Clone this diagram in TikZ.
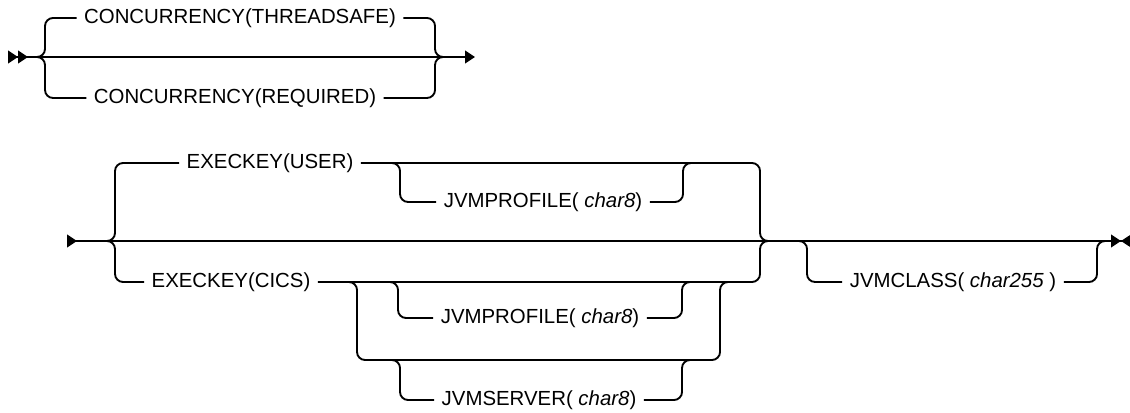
\documentclass[tikz,border=0pt]{standalone}
\usepackage{fontspec}
\setmainfont{Liberation Sans}
\usetikzlibrary{arrows.meta,calc}

\begin{document}
\begin{tikzpicture}[x=0.75pt,y=-0.75pt,line width=1.4pt,font=\fontsize{15.3}{18}\selectfont]
\tikzstyle{kw}=[inner xsep=5pt,inner ysep=0pt]
\tikzstyle{rail}=[rounded corners=6pt]
\tikzset{tri/.tip={Triangle[length=7.5pt,width=9.5pt]}}
\useasboundingbox (0,0) rectangle (1130,413);
\coordinate (a0) at (8,57);
\coordinate (a1) at (45,57);
\coordinate (a2) at (435,57);
\coordinate (a3) at (475,57);
\node[kw] (ts) at (240,18) {CONCURRENCY(THREADSAFE)};
\node[kw] (rq) at (235,98) {CONCURRENCY(REQUIRED)};
\draw[{tri[reversed]tri[reversed]}-{tri[]}] (a0) -- (a3);
\draw[rail] (a1) ++(-10,0) -| (a1 |- ts.west) -- (ts.west);
\draw[rail] (ts.east) -| (a2) -- ++(10,0);
\draw[rail] (a1) ++(-10,0) -| (a1 |- rq.west) -- (rq.west);
\draw[rail] (rq.east) -| (a2) -- ++(10,0);
\coordinate (b0) at (67,241);
\coordinate (b1) at (115,241);
\coordinate (b2) at (760,241);
\coordinate (b3) at (1131,241);
\coordinate (u1) at (400,163);
\coordinate (u2) at (683,163);
\coordinate (g1) at (357,282);
\coordinate (g2) at (720,282);
\coordinate (h1) at (357,360);
\coordinate (q1) at (398,282);
\coordinate (q2) at (682,282);
\coordinate (s1) at (400,360);
\coordinate (s2) at (682,360);
\coordinate (c1) at (807,241);
\coordinate (c2) at (1097,241);
\node[kw] (us) at (270,163) {EXECKEY(USER)};
\node[kw] (ci) at (231,282) {EXECKEY(CICS)};
\node[kw] (p1) at (543,202) {JVMPROFILE( \textit{char8})};
\node[kw] (p2) at (540,318) {JVMPROFILE( \textit{char8})};
\node[kw] (sv) at (539,400) {JVMSERVER( \textit{char8})};
\node[kw] (cl) at (953,282) {JVMCLASS( \textit{char255} )};
\draw[{tri[reversed]}-{tri[]tri[reversed]}] (b0) -- (b3);
\draw[rail] (b1) ++(-10,0) -| (b1 |- us.west) -- (us.west);
\draw[rail] (us.east) -| (b2) -- ++(10,0);
\draw[rail] (u1) ++(-10,0) -| (u1 |- p1.west) -- (p1.west);
\draw[rail] (p1.east) -| (u2) -- ++(10,0);
\draw[rail] (b1) ++(-10,0) -| (b1 |- ci.west) -- (ci.west);
\draw[rail] (ci.east) -| (b2) -- ++(10,0);
\draw[rail] (g1) ++(-10,0) -| (h1) -| (g2) -- ++(10,0);
\draw[rail] (q1) ++(-10,0) -| (q1 |- p2.west) -- (p2.west);
\draw[rail] (p2.east) -| (q2) -- ++(10,0);
\draw[rail] (s1) ++(-10,0) -| (s1 |- sv.west) -- (sv.west);
\draw[rail] (sv.east) -| (s2) -- ++(10,0);
\draw[rail] (c1) ++(-10,0) -| (c1 |- cl.west) -- (cl.west);
\draw[rail] (cl.east) -| (c2) -- ++(10,0);
\end{tikzpicture}
\end{document}
